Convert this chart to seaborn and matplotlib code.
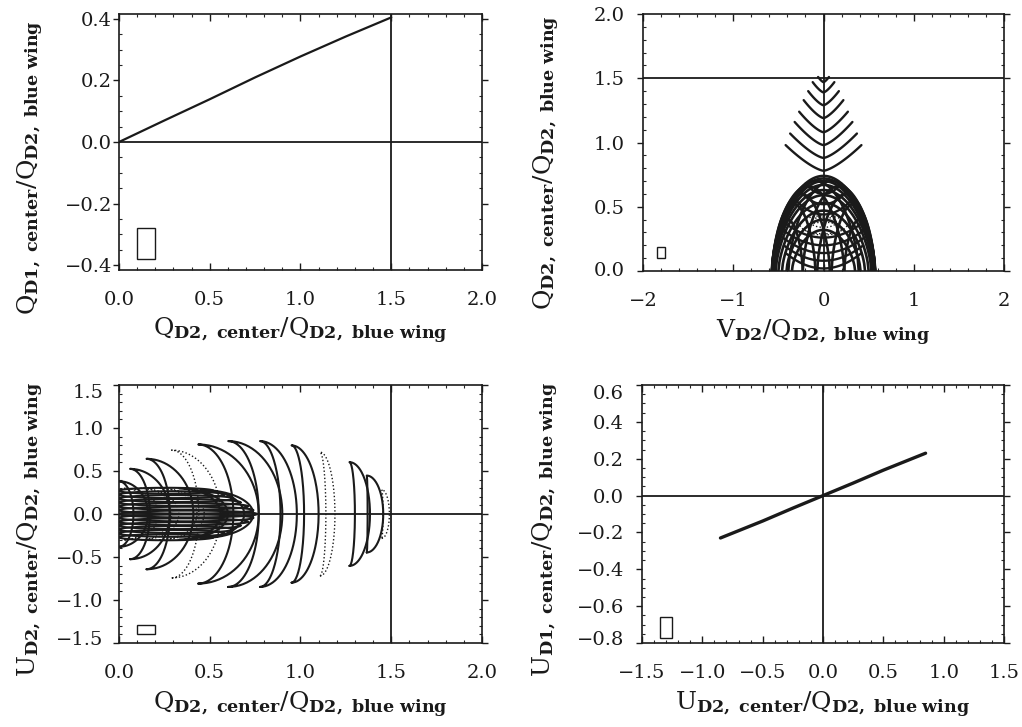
import numpy as np
import pandas as pd
import seaborn as sns
import matplotlib.pyplot as plt
import matplotlib.transforms as mtransforms
from matplotlib.patches import Rectangle
from matplotlib.ticker import MultipleLocator, FuncFormatter

sns.set_theme(style="ticks")
plt.rcParams['font.family'] = ['DejaVu Serif']
plt.rcParams['mathtext.fontset'] = 'dejavuserif'

# ---- top left: Q_D1 vs Q_D2 (nearly straight line)
qd2_line = [0.0, 0.25, 0.5, 0.75, 1.0, 1.25, 1.5]
qd1_line = [0.0, 0.070, 0.139, 0.210, 0.278, 0.343, 0.405]

# ---- bottom right: U_D1 vs U_D2
ud2_line = [-0.85, -0.5, -0.25, 0.0, 0.25, 0.5, 0.85]
ud1_line = [-0.23, -0.138, -0.068, 0.0, 0.068, 0.138, 0.23]

# ---- bottom left: U_D2 vs Q_D2, crescents (tip point, outer / inner edge on U=0)
cres_tip_q = [1.447, 1.365, 1.27, 1.107, 0.951, 0.777, 0.602, 0.437, 0.29, 0.152, 0.061, 0.0]
cres_tip_u = [0.284, 0.447, 0.603, 0.72, 0.798, 0.848, 0.848, 0.809, 0.743, 0.642, 0.525, 0.381]
cres_out_q = [1.49, 1.456, 1.383, 1.19, 1.10, 0.98, 0.90, 0.77, 0.56, 0.41, 0.28, 0.16]
cres_in_q = [1.455, 1.37, 1.30, 1.14, 1.02, 0.89, 0.77, 0.63, 0.44, 0.28, 0.17, 0.08]
cres_dotted = [1, 0, 0, 1, 0, 0, 0, 0, 1, 0, 0, 0]

# small crescents inside the central bundle
inner_tip_q = [0.03, 0.12, 0.22, 0.33, 0.45]
inner_tip_u = [0.30, 0.30, 0.30, 0.30, 0.28]
inner_out_q = [0.22, 0.33, 0.47, 0.60, 0.74]
inner_in_q = [0.18, 0.29, 0.43, 0.56, 0.69]
inner_dotted = [1, 1, 1, 0, 0]

# thin horizontal lenses of the bundle (left end at Q=0)
lens_u = [-0.27, -0.225, -0.18, -0.135, -0.09, -0.045, 0.0, 0.045, 0.09, 0.135, 0.18, 0.225, 0.27]
lens_right = [0.52, 0.58, 0.63, 0.67, 0.71, 0.74, 0.76, 0.74, 0.71, 0.67, 0.63, 0.58, 0.52]
lens_half = [0.035, 0.04, 0.04, 0.04, 0.04, 0.04, 0.04, 0.04, 0.04, 0.04, 0.04, 0.04, 0.035]

# ---- top right: Q_D2 vs V_D2 arches
arch_c = [0, 0, 0, 0, 0, 0, 0, 0, 0, 0,
          -0.40, -0.33, -0.25, -0.17, -0.09, 0.09, 0.17, 0.25, 0.33, 0.40]
arch_w = [0.575, 0.57, 0.565, 0.56, 0.55, 0.53, 0.50, 0.46, 0.41, 0.35,
          0.17, 0.24, 0.32, 0.40, 0.48, 0.48, 0.40, 0.32, 0.24, 0.17]
arch_h = [0.74, 0.72, 0.70, 0.67, 0.63, 0.59, 0.53, 0.47, 0.40, 0.32,
          0.40, 0.52, 0.60, 0.66, 0.70, 0.70, 0.66, 0.60, 0.52, 0.40]

smile_y0 = [0.02, 0.08, 0.14, 0.20, 0.26, 0.44, 0.52, 0.60]
smile_w = [0.42, 0.44, 0.45, 0.45, 0.44, 0.32, 0.26, 0.20]
smile_r = [0.12, 0.12, 0.12, 0.12, 0.12, 0.12, 0.10, 0.08]

fern_y0 = [0.78, 0.88, 0.98, 1.08, 1.19, 1.29, 1.39, 1.47]
fern_w = [0.42, 0.37, 0.32, 0.27, 0.22, 0.17, 0.12, 0.06]
fern_r = [0.20, 0.19, 0.18, 0.16, 0.14, 0.11, 0.08, 0.04]

dot_loop_v = [0.0, 0.0, 0.0]
dot_loop_q = [0.36, 0.33, 0.38]
dot_loop_a = [0.26, 0.20, 0.14]
dot_loop_b = [0.07, 0.05, 0.04]

# error boxes (x0, y0, width, height)
box_tl = (0.10, -0.38, 0.10, 0.10)
box_tr = (-1.845, 0.10, 0.09, 0.087)
box_bl = (0.10, -1.40, 0.10, 0.11)
box_br = (-1.35, -0.77, 0.10, 0.11)


def crescent(tq, tu, oq, iq):
    th = np.linspace(-np.pi / 2, np.pi / 2, 90)
    outer_q = tq + (oq - tq) * np.cos(th)
    inner_q = tq + (iq - tq) * np.cos(th)
    q = np.concatenate([outer_q, inner_q[::-1]])
    u = np.concatenate([tu * np.sin(th), (tu * np.sin(th))[::-1]])
    return q, u


def ellipse(xc, yc, a, b):
    th = np.linspace(0, 2 * np.pi, 120)
    return xc + a * np.cos(th), yc + b * np.sin(th)


def arch(c, w, h):
    s = np.linspace(-1, 1, 100)
    return c + w * s, h * (1 - s ** 2) ** 0.65


def smile(y0, w, r, p=2.0):
    s = np.linspace(-1, 1, 60)
    return w * s, y0 + r * np.abs(s) ** p


def draw(ax, curves, dotted=False, lw=1.4):
    frames = []
    for k, (x, y) in enumerate(curves):
        frames.append(pd.DataFrame({'x': x, 'y': y, 'curve': k}))
    if not frames:
        return
    df = pd.concat(frames, ignore_index=True)
    ls = (0, (1, 1.6)) if dotted else '-'
    sns.lineplot(data=df, x='x', y='y', units='curve', estimator=None, sort=False,
                 color='k', lw=(1.0 if dotted else lw), linestyle=ls, ax=ax, legend=False)


def minus_fmt(fmt):
    return FuncFormatter(lambda v, p: (fmt % v).replace('-', '\u2212'))


def style(ax, xlim, ylim, xmaj, xmin, ymaj, ymin, xfmt, yfmt, ypad):
    ax.set_xlim(*xlim)
    ax.set_ylim(*ylim)
    ax.xaxis.set_major_locator(MultipleLocator(xmaj))
    ax.xaxis.set_minor_locator(MultipleLocator(xmin))
    ax.yaxis.set_major_locator(MultipleLocator(ymaj))
    ax.yaxis.set_minor_locator(MultipleLocator(ymin))
    ax.xaxis.set_major_formatter(minus_fmt(xfmt))
    ax.yaxis.set_major_formatter(minus_fmt(yfmt))
    ax.tick_params(axis='x', which='major', direction='in', length=5, width=1,
                   top=True, bottom=True, labelsize=14, pad=15, colors='k')
    ax.tick_params(axis='x', which='minor', direction='in', length=2.5, width=0.8,
                   top=True, bottom=True)
    ax.tick_params(axis='y', which='major', direction='out', length=4, width=1,
                   left=True, right=True, labelsize=14, pad=ypad, colors='k')
    ax.tick_params(axis='y', which='minor', direction='in', length=2.5, width=0.8,
                   left=True, right=True)
    for sp in ax.spines.values():
        sp.set_linewidth(1.2)
        sp.set_color('k')
    ax.set_facecolor('white')


fig = plt.figure(figsize=(10.22, 7.27), dpi=100)
fig.patch.set_facecolor('white')
ax1 = fig.add_axes([0.1164, 0.6286, 0.3552, 0.3521])
ax2 = fig.add_axes([0.6292, 0.6272, 0.3532, 0.3535])
ax3 = fig.add_axes([0.1164, 0.1155, 0.3552, 0.3549])
ax4 = fig.add_axes([0.6282, 0.1155, 0.3542, 0.3549])

lw_ref = 1.3

# top left
ax1.axhline(0, color='k', lw=lw_ref)
ax1.axvline(1.5, color='k', lw=lw_ref)
sns.lineplot(x=qd2_line, y=qd1_line, color='k', lw=1.6, sort=False, ax=ax1)
ax1.add_patch(Rectangle(box_tl[:2], box_tl[2], box_tl[3], fill=False, ec='k', lw=1))

# top right
ax2.axvline(0, color='k', lw=lw_ref)
ax2.axhline(1.5, color='k', lw=lw_ref)
draw(ax2, [arch(c, w, h) for c, w, h in zip(arch_c, arch_w, arch_h)], lw=1.9)
draw(ax2, [smile(y, w, r) for y, w, r in zip(smile_y0, smile_w, smile_r)], lw=1.7)
draw(ax2, [smile(y, w, r, 1.4) for y, w, r in zip(fern_y0, fern_w, fern_r)], lw=1.7)
draw(ax2, [ellipse(v, q, a, b) for v, q, a, b in zip(dot_loop_v, dot_loop_q, dot_loop_a, dot_loop_b)],
     dotted=True)
ax2.add_patch(Rectangle(box_tr[:2], box_tr[2], box_tr[3], fill=False, ec='k', lw=1))

# bottom left
ax3.axhline(0, color='k', lw=lw_ref)
ax3.axvline(1.5, color='k', lw=lw_ref)
cres = list(zip(cres_tip_q, cres_tip_u, cres_out_q, cres_in_q))
inner = list(zip(inner_tip_q, inner_tip_u, inner_out_q, inner_in_q))
solid = [crescent(*p) for p, d in zip(cres, cres_dotted) if not d]
dots = [crescent(*p) for p, d in zip(cres, cres_dotted) if d]
solid += [crescent(*p) for p, d in zip(inner, inner_dotted) if not d]
dots += [crescent(*p) for p, d in zip(inner, inner_dotted) if d]
solid += [ellipse(r / 2, u, r / 2, b) for u, r, b in zip(lens_u, lens_right, lens_half)]
draw(ax3, solid, lw=1.5)
draw(ax3, dots, dotted=True)
ax3.add_patch(Rectangle(box_bl[:2], box_bl[2], box_bl[3], fill=False, ec='k', lw=1))

# bottom right
ax4.axhline(0, color='k', lw=lw_ref)
ax4.axvline(0, color='k', lw=lw_ref)
sns.lineplot(x=ud2_line, y=ud1_line, color='k', lw=2.4, sort=False, ax=ax4)
ax4.add_patch(Rectangle(box_br[:2], box_br[2], box_br[3], fill=False, ec='k', lw=1))

style(ax1, (0, 2), (-0.416, 0.416), 0.5, 0.1, 0.2, 0.05, '%.1f', '%.1f', 1)
style(ax2, (-2, 2), (0, 2), 1, 0.2, 0.5, 0.1, '%d', '%.1f', 9)
style(ax3, (0, 2), (-1.5, 1.5), 0.5, 0.1, 0.5, 0.1, '%.1f', '%.1f', 7)
style(ax4, (-1.5, 1.5), (-0.8, 0.6), 0.5, 0.1, 0.2, 0.05, '%.1f', '%.1f', 9)

lab_q2c = r'$\mathrm{Q}_{\mathbf{D2,\ center}}/\mathrm{Q}_{\mathbf{D2,\ blue\ wing}}$'
labels = [
    (ax1, lab_q2c, r'$\mathrm{Q}_{\mathbf{D1,\ center}}/\mathrm{Q}_{\mathbf{D2,\ blue\ wing}}$',
     -0.20, 0.40),
    (ax2, r'$\mathrm{V}_{\mathbf{D2}}/\mathrm{Q}_{\mathbf{D2,\ blue\ wing}}$', lab_q2c, -0.225, 0.42),
    (ax3, lab_q2c, r'$\mathrm{U}_{\mathbf{D2,\ center}}/\mathrm{Q}_{\mathbf{D2,\ blue\ wing}}$',
     -0.20, 0.44),
    (ax4, r'$\mathrm{U}_{\mathbf{D2,\ center}}/\mathrm{Q}_{\mathbf{D2,\ blue\ wing}}$',
     r'$\mathrm{U}_{\mathbf{D1,\ center}}/\mathrm{Q}_{\mathbf{D2,\ blue\ wing}}$', -0.225, 0.44),
]
for ax, xl, yl, xpos, ypos in labels:
    ax.set_xlabel(xl, fontsize=18, color='k', va='top')
    ax.set_ylabel(yl, fontsize=18, color='k')
    ax.xaxis.set_label_coords(0.5, -0.18)
    ax.yaxis.set_label_coords(xpos, ypos)


# end tick labels sit inside the axis range in the original
def shift_labels(ax, shifts):
    fig.canvas.draw()
    for tick in ax.yaxis.get_major_ticks():
        v = round(tick.get_loc(), 3)
        if v in shifts:
            off = mtransforms.ScaledTranslation(0, shifts[v] / 100, fig.dpi_scale_trans)
            tick.label1.set_transform(tick.label1.get_transform() + off)


shift_labels(ax3, {1.5: -6, -1.5: 5})
shift_labels(ax4, {0.6: -7, -0.8: 5})
shift_labels(ax2, {0.0: 2})

fig.savefig('out.png', dpi=100, facecolor='white')
